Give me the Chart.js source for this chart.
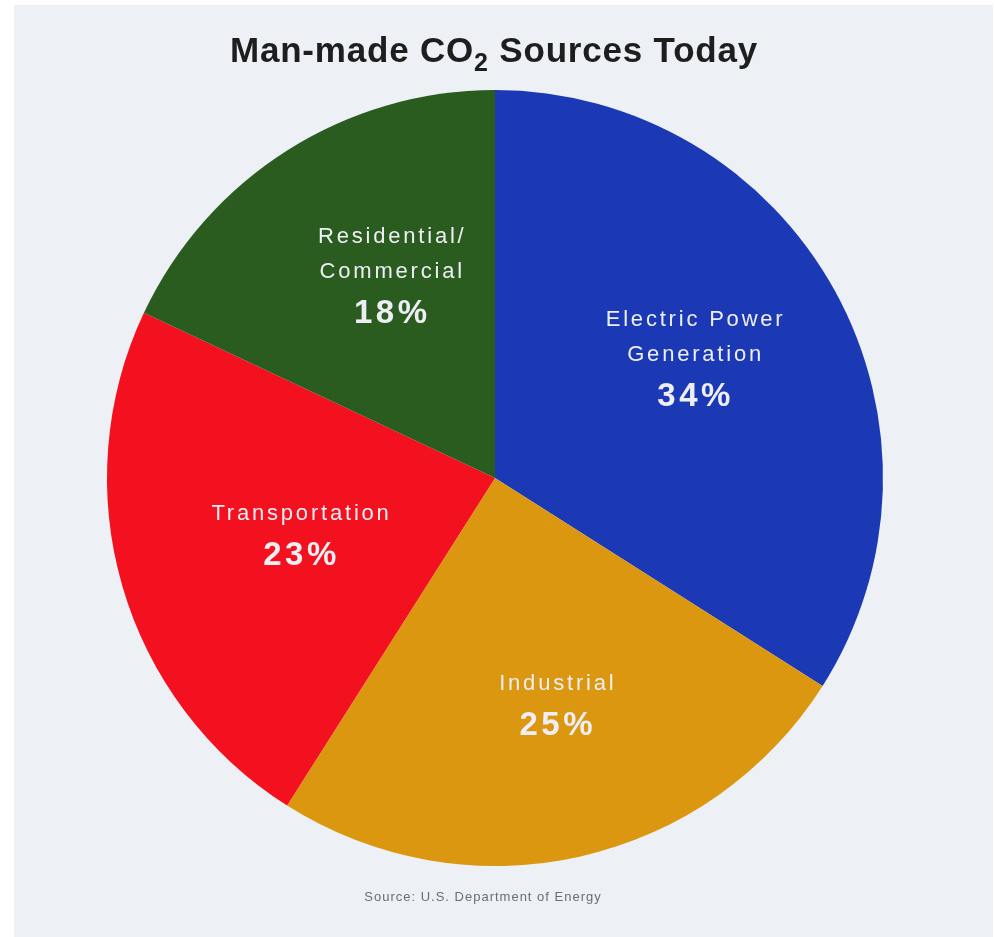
<!DOCTYPE html>
<html>
<head>
<meta charset="utf-8">
<title>Man-made CO2 Sources Today</title>
<script src="https://cdn.jsdelivr.net/npm/chart.js@4.4.1/dist/chart.umd.min.js"></script>
<style>
  body { margin: 0; background: #ffffff; }
  #panel { position: absolute; left: 14px; top: 5px; width: 979px; height: 932px; background: #edf0f5; }
  #co2Chart { position: absolute; left: 0; top: 0; }
</style>
</head>
<body>
<div id="panel"></div>
<canvas id="co2Chart" width="995" height="937"></canvas>
<script>
// data, clockwise from 12 o'clock
const sectors = ["Electric Power Generation", "Industrial", "Transportation", "Residential/Commercial"];
const shares = [34, 25, 23, 18];
const labelLines = [["Electric Power", "Generation"], ["Industrial"], ["Transportation"], ["Residential/", "Commercial"]];
const sliceColors = ["#1b39b5", "#da970f", "#f3101f", "#2b5c1f"];
const sourceNote = "Source: U.S. Department of Energy";

const font = "'Liberation Sans', Arial, Helvetica, sans-serif";
// where each label block sits: share of radius along the middle angle, plus a small nudge
const labelReach = [0.59, 0.6, 0.53, 0.6];
const labelNudge = [[0, -9], [12, 0], [4, 0], [22, -6]];

// white labels placed along each slice's middle angle
const sliceLabels = {
    id: "sliceLabels",
    afterDatasetsDraw(chart) {
        const ctx = chart.ctx;
        const arcs = chart.getDatasetMeta(0).data;
        ctx.save();
        ctx.textAlign = "center";
        ctx.textBaseline = "middle";
        ctx.fillStyle = "#eeeef4";
        arcs.forEach((arc, i) => {
            const p = arc.getProps(["x", "y", "startAngle", "endAngle", "outerRadius"], true);
            const mid = (p.startAngle + p.endAngle) / 2;
            const cx = p.x + Math.cos(mid) * p.outerRadius * labelReach[i] + labelNudge[i][0];
            const cy = p.y + Math.sin(mid) * p.outerRadius * labelReach[i] + labelNudge[i][1];
            const lines = labelLines[i];
            const lineH = 35;
            const gap = 42;
            const span = (lines.length - 1) * lineH + gap;
            let y = cy - span / 2;
            ctx.font = "22px " + font;
            ctx.letterSpacing = "2.8px";
            lines.forEach(line => {
                ctx.fillText(line, cx, y);
                y += lineH;
            });
            y += gap - lineH;
            ctx.font = "bold 33px " + font;
            ctx.letterSpacing = "3.5px";
            ctx.fillText(shares[i] + "%", cx, y);
        });
        ctx.restore();
    }
};

// title with subscript 2 and the source note
const headings = {
    id: "headings",
    afterDraw(chart) {
        const ctx = chart.ctx;
        ctx.save();
        ctx.fillStyle = "#1e1e1e";
        ctx.textBaseline = "alphabetic";
        ctx.letterSpacing = "0.8px";
        const big = "bold 35px " + font;
        const small = "bold 25px " + font;
        const parts = [["Man-made CO", big, 0], ["2", small, 9], [" Sources Today", big, 0]];
        let width = 0;
        parts.forEach(p => { ctx.font = p[1]; width += ctx.measureText(p[0]).width; });
        let x = 494 - width / 2;
        ctx.textAlign = "left";
        parts.forEach(p => {
            ctx.font = p[1];
            ctx.fillText(p[0], x, 62 + p[2]);
            x += ctx.measureText(p[0]).width;
        });
        ctx.font = "13px " + font;
        ctx.letterSpacing = "1px";
        ctx.fillStyle = "#6a6e74";
        ctx.textAlign = "center";
        ctx.fillText(sourceNote, 483, 901);
        ctx.restore();
    }
};

new Chart(document.getElementById("co2Chart").getContext("2d"), {
    type: "pie",
    data: {
        labels: sectors,
        datasets: [{
            data: shares,
            backgroundColor: sliceColors,
            borderWidth: 0
        }]
    },
    options: {
        responsive: false,
        animation: false,
        layout: { padding: { left: 107, top: 90, right: 112, bottom: 71 } },
        plugins: {
            legend: { display: false },
            tooltip: { enabled: false },
            title: { display: false }
        }
    },
    plugins: [sliceLabels, headings]
});
</script>
</body>
</html>
